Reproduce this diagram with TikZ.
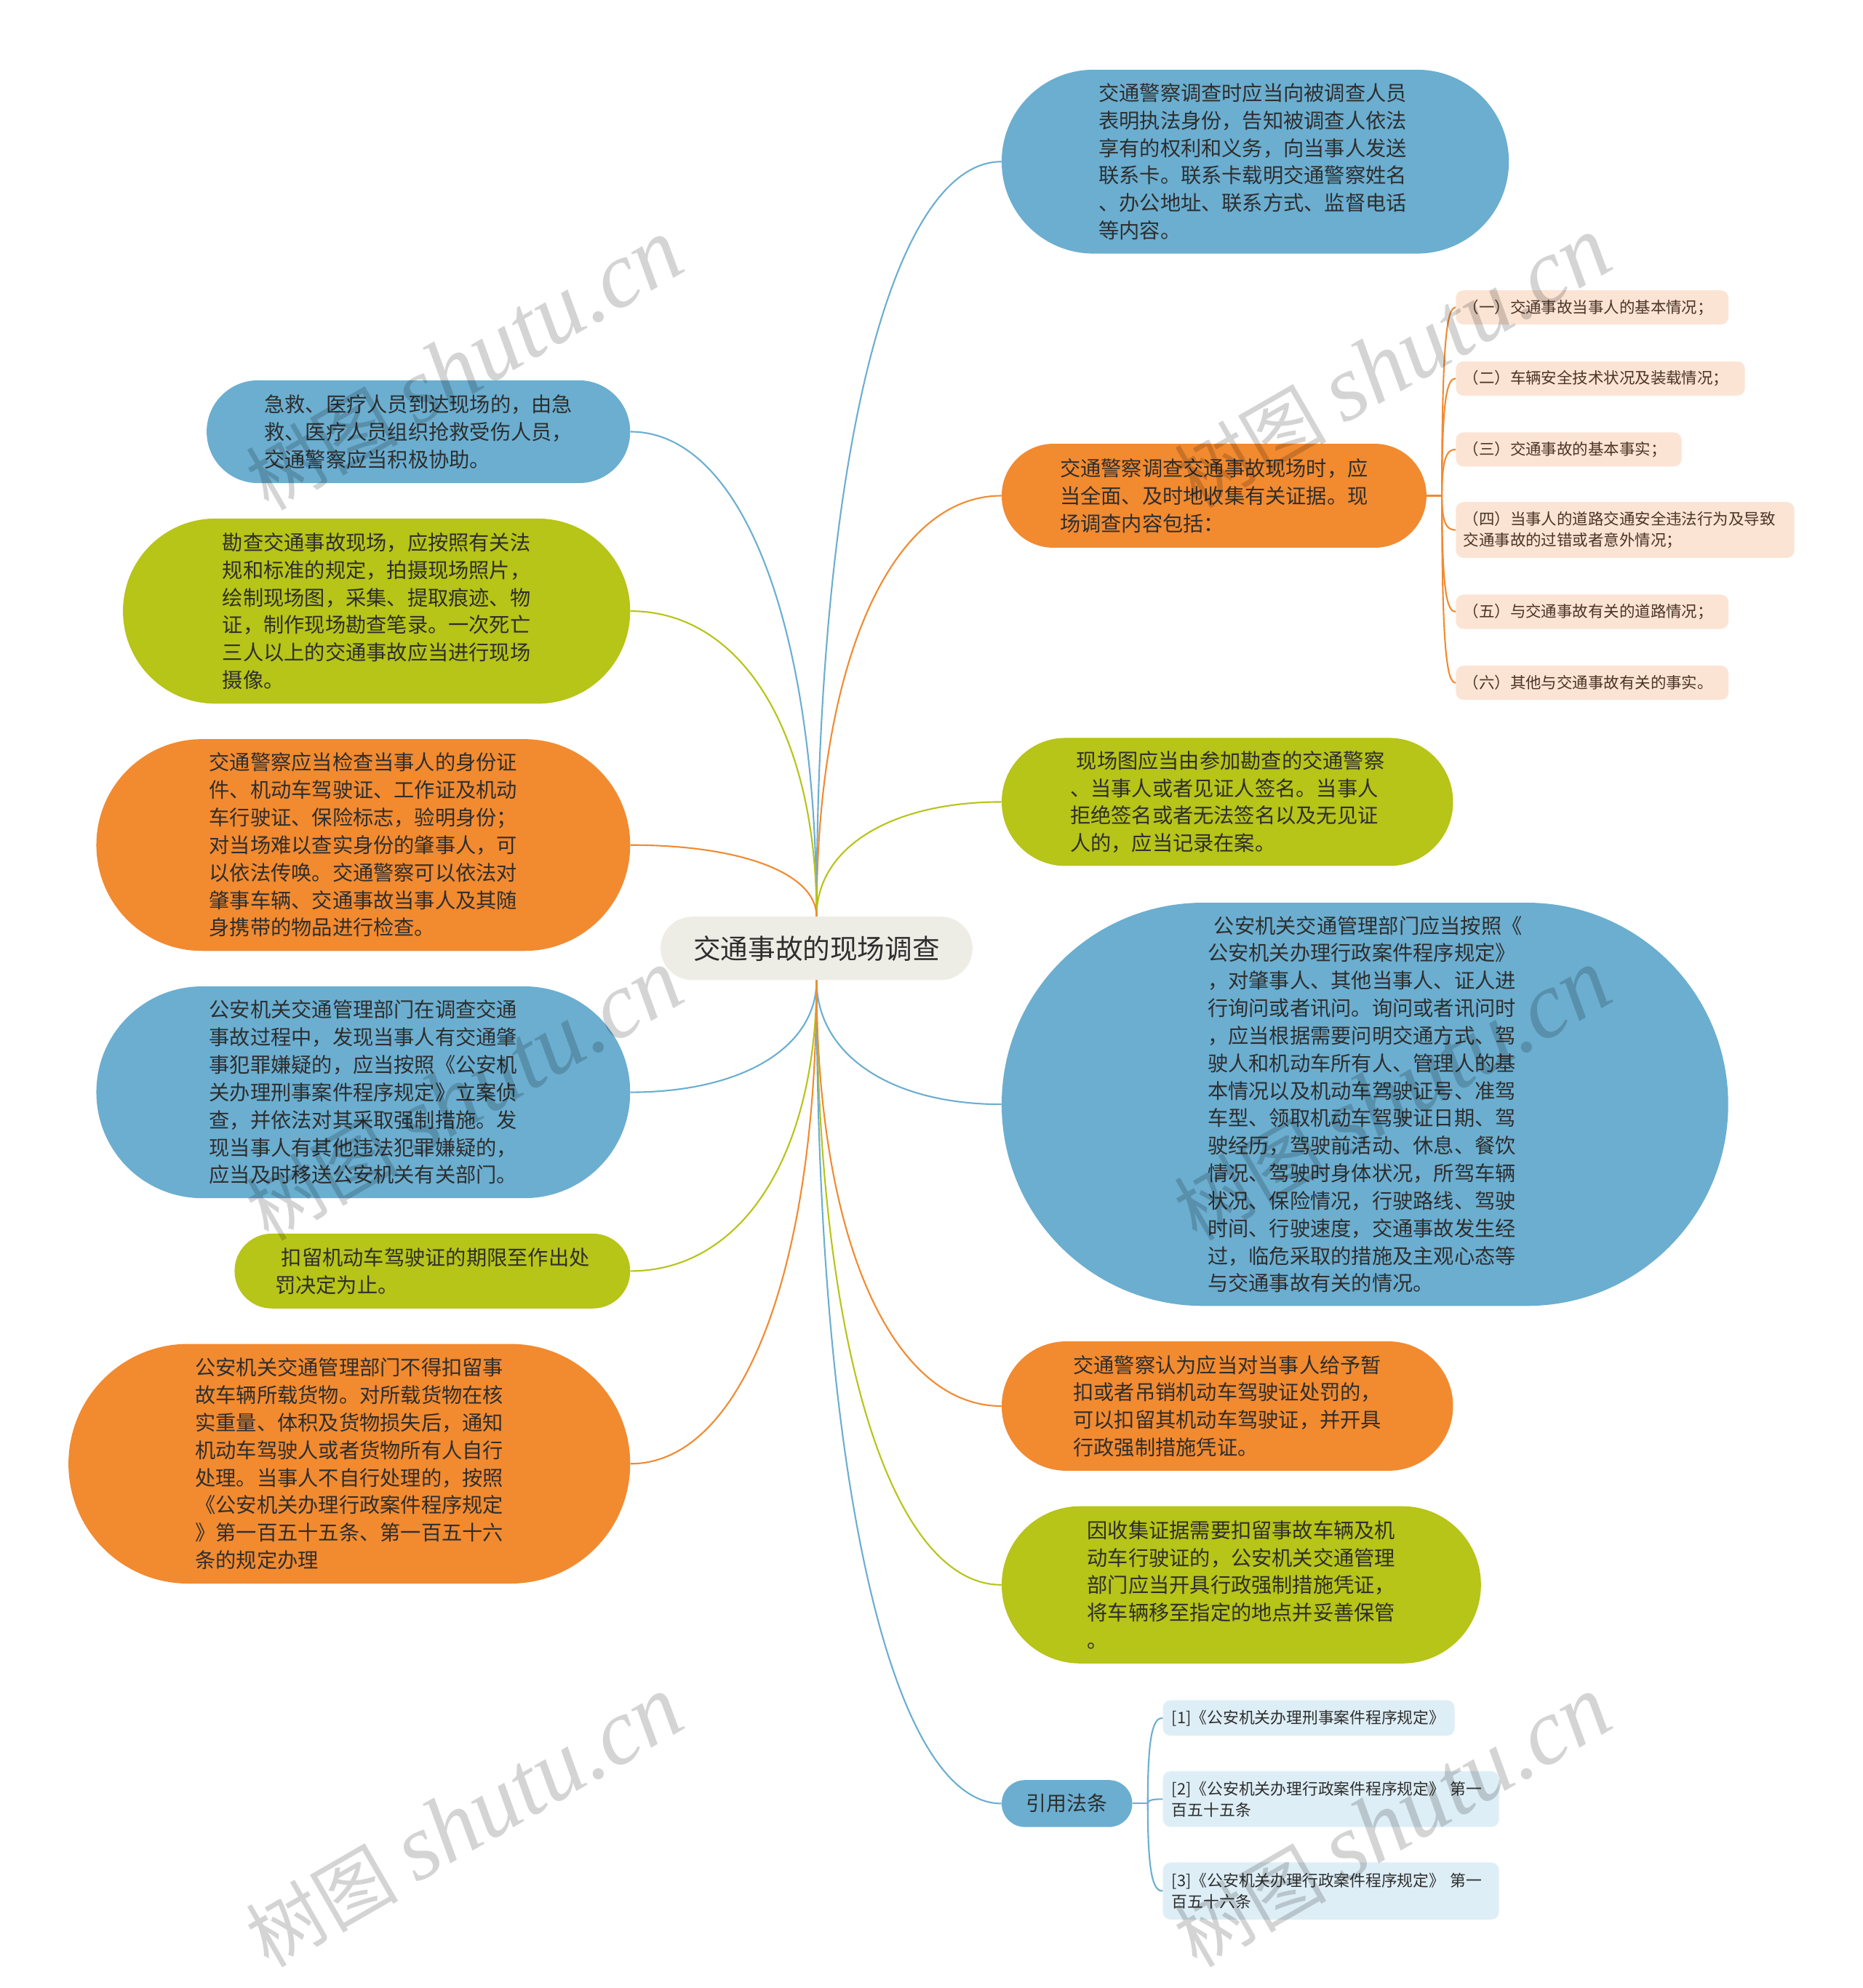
\documentclass[tikz,border=0pt]{standalone}
\usepackage{fontspec}
\setmainfont{Noto Sans CJK SC}
\newfontfamily\wmlatin{Liberation Serif}
\usetikzlibrary{calc}
\definecolor{cblue}{HTML}{6BAED0}
\definecolor{corange}{HTML}{F28A30}
\definecolor{cgreen}{HTML}{B7C418}
\definecolor{cpeach}{HTML}{FCE4D4}
\definecolor{cref}{HTML}{DEEEF6}
\definecolor{ccenter}{HTML}{EEEDE5}
\definecolor{ctext}{HTML}{2E2E2E}
\definecolor{csub}{HTML}{4A3426}
\tikzset{
  topic/.style={inner sep=0pt, align=left, text=ctext, font=\fontsize{16.2}{21.7}\selectfont},
  subitem/.style={fill=cpeach, rounded corners=6pt, inner xsep=6pt, inner ysep=0pt, anchor=west,
    align=left, text=csub, minimum height=27pt, font=\fontsize{12.3}{17}\selectfont},
  refitem/.style={fill=cref, rounded corners=6pt, inner xsep=7pt, inner ysep=0pt, anchor=west,
    align=left, text=ctext, minimum height=28pt, font=\fontsize{12.5}{16.5}\selectfont},
  link/.style={line width=1.2pt},
  wmark/.style={anchor=base west, rotate=30, text=black, opacity=0.17, inner sep=0pt}
}
\newcommand\mmlink[3]{\draw[link,#1] (#2) .. controls ($(#2)!0.6!(#2|-#3)$) and ($(#3)!0.6!(#2|-#3)$) .. (#3);}
\newcommand\mmsublink[3]{\draw[link,#1] (#2) .. controls ($(#2)!0.85!(#2|-#3)$) and ($(#3)!0.6!(#2|-#3)$) .. (#3);}
\newcommand\wmtext{{\fontsize{60}{60}\selectfont 树图}\hspace{14pt}{\wmlatin\itshape\fontsize{74}{74}\selectfont shutu.cn}}
\begin{document}
\begin{tikzpicture}[x=1pt,y=-1pt]
\fill[white] (0,0) rectangle (1469,1568);
\useasboundingbox (0,0) rectangle (1469,1568);

% central topic
\node[topic, fill=ccenter, minimum width=246pt, minimum height=50pt, rounded corners=24.9pt,
  font=\fontsize{21.6}{26}\selectfont] (C) at (644,748) {交通事故的现场调查};

% right side
\node[topic, fill=cblue, minimum width=400pt, minimum height=145pt, rounded corners=72.4pt] (R1) at (990,127.5)
 {\hspace*{-4pt}交通警察调查时应当向被调查人员\\\hspace*{-4pt}表明执法身份，告知被调查人依法\\\hspace*{-4pt}享有的权利和义务，向当事人发送\\\hspace*{-4pt}联系卡。联系卡载明交通警察姓名\\\hspace*{-4pt}、办公地址、联系方式、监督电话\\\hspace*{-4pt}等内容。};
\node[topic, fill=corange, minimum width=335pt, minimum height=82pt, rounded corners=40.9pt] (R2) at (957.5,391)
 {交通警察调查交通事故现场时，应\\当全面、及时地收集有关证据。现\\场调查内容包括：};
\node[topic, fill=cgreen, minimum width=356pt, minimum height=101pt, rounded corners=50.4pt] (R3) at (968,632.5)
 {\hspace*{5pt}现场图应当由参加勘查的交通警察\\、当事人或者见证人签名。当事人\\拒绝签名或者无法签名以及无见证\\人的，应当记录在案。};
\node[topic, fill=cblue, minimum width=573pt, minimum height=318pt, rounded corners=158.9pt] (R4) at (1076.5,871)
 {\hspace*{5pt}公安机关交通管理部门应当按照《\\公安机关办理行政案件程序规定》\\，对肇事人、其他当事人、证人进\\行询问或者讯问。询问或者讯问时\\，应当根据需要问明交通方式、驾\\驶人和机动车所有人、管理人的基\\本情况以及机动车驾驶证号、准驾\\车型、领取机动车驾驶证日期、驾\\驶经历，驾驶前活动、休息、餐饮\\情况、驾驶时身体状况，所驾车辆\\状况、保险情况，行驶路线、驾驶\\时间、行驶速度，交通事故发生经\\过，临危采取的措施及主观心态等\\与交通事故有关的情况。};
\node[topic, fill=corange, minimum width=356pt, minimum height=102pt, rounded corners=50.9pt] (R5) at (968,1109)
 {交通警察认为应当对当事人给予暂\\扣或者吊销机动车驾驶证处罚的，\\可以扣留其机动车驾驶证，并开具\\行政强制措施凭证。};
\node[topic, fill=cgreen, minimum width=378pt, minimum height=124pt, rounded corners=61.9pt] (R6) at (979,1250)
 {因收集证据需要扣留事故车辆及机\\动车行驶证的，公安机关交通管理\\部门应当开具行政强制措施凭证，\\将车辆移至指定的地点并妥善保管\\。};
\node[topic, fill=cblue, minimum width=103pt, minimum height=37pt, rounded corners=18.4pt,
  font=\fontsize{16}{20}\selectfont] (R7) at (841.5,1422.5) {引用法条};

% left side
\node[topic, fill=cblue, minimum width=334pt, minimum height=81pt, rounded corners=40.4pt] (L1) at (330,340.5)
 {急救、医疗人员到达现场的，由急\\救、医疗人员组织抢救受伤人员，\\交通警察应当积极协助。};
\node[topic, fill=cgreen, minimum width=400pt, minimum height=146pt, rounded corners=72.9pt] (L2) at (297,482)
 {勘查交通事故现场，应按照有关法\\规和标准的规定，拍摄现场照片，\\绘制现场图，采集、提取痕迹、物\\证，制作现场勘查笔录。一次死亡\\三人以上的交通事故应当进行现场\\摄像。};
\node[topic, fill=corange, minimum width=421pt, minimum height=167pt, rounded corners=83.4pt] (L3) at (286.5,666.5)
 {交通警察应当检查当事人的身份证\\件、机动车驾驶证、工作证及机动\\车行驶证、保险标志，验明身份；\\对当场难以查实身份的肇事人，可\\以依法传唤。交通警察可以依法对\\肇事车辆、交通事故当事人及其随\\身携带的物品进行检查。};
\node[topic, fill=cblue, minimum width=421pt, minimum height=167pt, rounded corners=83.4pt] (L4) at (286.5,861.5)
 {公安机关交通管理部门在调查交通\\事故过程中，发现当事人有交通肇\\事犯罪嫌疑的，应当按照《公安机\\关办理刑事案件程序规定》立案侦\\查，并依法对其采取强制措施。发\\现当事人有其他违法犯罪嫌疑的，\\应当及时移送公安机关有关部门。};
\node[topic, fill=cgreen, minimum width=312pt, minimum height=59pt, rounded corners=29.4pt] (L5) at (341,1002.5)
 {\hspace*{5pt}扣留机动车驾驶证的期限至作出处\\罚决定为止。};
\node[topic, fill=corange, minimum width=443pt, minimum height=189pt, rounded corners=94.4pt] (L6) at (275.5,1154.5)
 {公安机关交通管理部门不得扣留事\\故车辆所载货物。对所载货物在核\\实重量、体积及货物损失后，通知\\机动车驾驶人或者货物所有人自行\\处理。当事人不自行处理的，按照\\《公安机关办理行政案件程序规定\\》第一百五十五条、第一百五十六\\条的规定办理};

% sub items of R2
\node[subitem, text width=203pt] (S1) at (1148,242.5) {（一）交通事故当事人的基本情况；};
\node[subitem, text width=216pt] (S2) at (1148,298.5) {（二）车辆安全技术状况及装载情况；};
\node[subitem, text width=166pt] (S3) at (1148,354.5) {（三）交通事故的基本事实；};
\node[subitem, text width=255pt, minimum height=44pt] (S4) at (1148,418) {（四）当事人的道路交通安全违法行为及导致\\交通事故的过错或者意外情况；};
\node[subitem, text width=203pt] (S5) at (1148,482.5) {（五）与交通事故有关的道路情况；};
\node[subitem, text width=203pt] (S6) at (1148,538.5) {（六）其他与交通事故有关的事实。};

% references of R7
\node[refitem, text width=216pt] (F1) at (917,1355) {[1]《公安机关办理刑事案件程序规定》};
\node[refitem, text width=251pt, minimum height=44pt] (F2) at (917,1419) {[2]《公安机关办理行政案件程序规定》~第一\\百五十五条};
\node[refitem, text width=251pt, minimum height=45pt] (F3) at (917,1491.5) {[3]《公安机关办理行政案件程序规定》~第一\\百五十六条};

% connectors from the central topic
\mmlink{cblue}{C.north}{R1.west}
\mmlink{corange}{C.north}{R2.west}
\mmlink{cgreen}{C.north}{R3.west}
\mmlink{cblue}{C.north}{L1.east}
\mmlink{cgreen}{C.north}{L2.east}
\mmlink{corange}{C.north}{L3.east}
\mmlink{cblue}{C.south}{R4.west}
\mmlink{corange}{C.south}{R5.west}
\mmlink{cgreen}{C.south}{R6.west}
\mmlink{cblue}{C.south}{R7.west}
\mmlink{cblue}{C.south}{L4.east}
\mmlink{cgreen}{C.south}{L5.east}
\mmlink{corange}{C.south}{L6.east}

% sub tree of R2
\coordinate (j2) at ($(R2.east)+(12,0)$);
\draw[link,corange] (R2.east) -- (j2);
\mmsublink{corange}{j2}{S1.west}
\mmsublink{corange}{j2}{S2.west}
\mmsublink{corange}{j2}{S3.west}
\mmsublink{corange}{j2}{S4.west}
\mmsublink{corange}{j2}{S5.west}
\mmsublink{corange}{j2}{S6.west}

% sub tree of R7
\coordinate (j7) at ($(R7.east)+(12,0)$);
\draw[link,cblue] (R7.east) -- (j7);
\mmsublink{cblue}{j7}{F1.west}
\mmsublink{cblue}{j7}{F2.west}
\mmsublink{cblue}{j7}{F3.west}

% watermarks
\node[wmark] (w1) at (212,404) {\wmtext};
\node[wmark] (w2) at (944,402) {\wmtext};
\node[wmark] (w3) at (212,980) {\wmtext};
\node[wmark] (w4) at (944,980) {\wmtext};
\node[wmark] (w5) at (212,1553) {\wmtext};
\node[wmark] (w6) at (944,1553) {\wmtext};
\end{tikzpicture}
\end{document}
